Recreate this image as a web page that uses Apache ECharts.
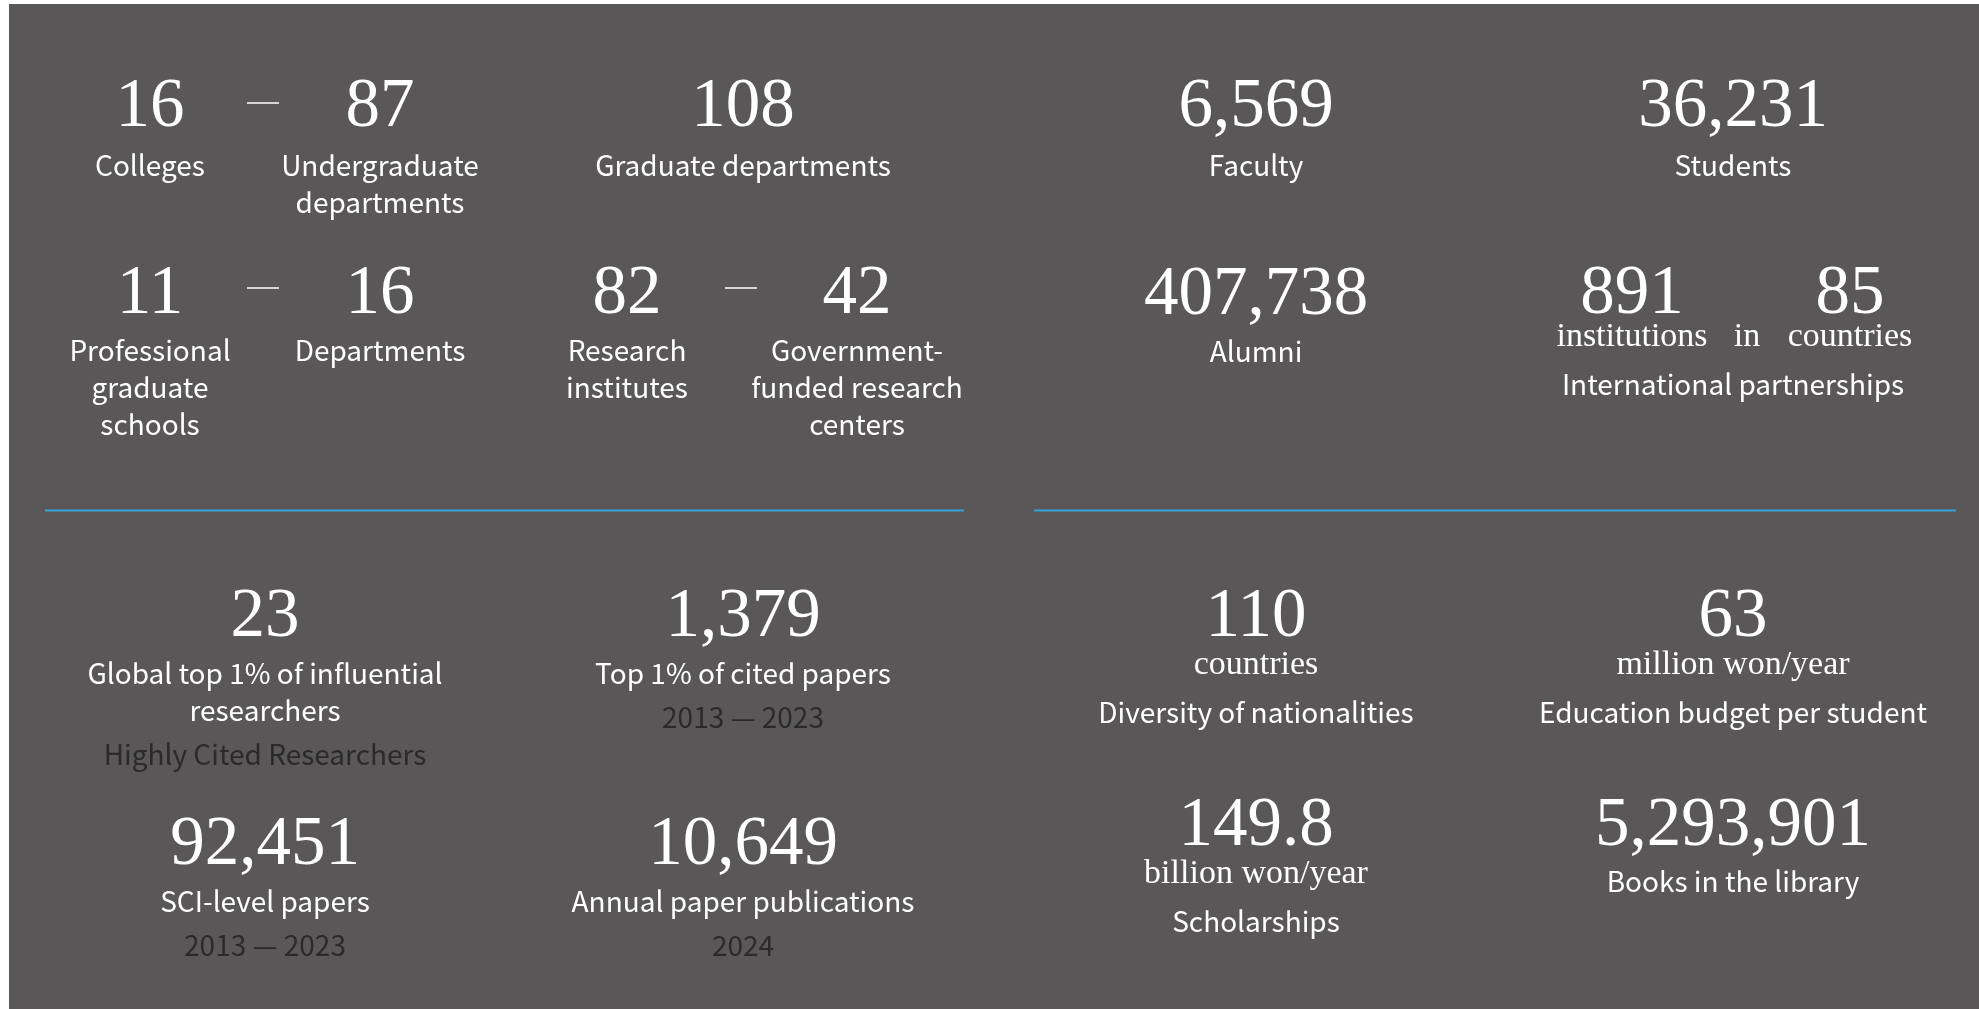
<!DOCTYPE html>
<html>
<head>
<meta charset="utf-8">
<script src="https://cdn.jsdelivr.net/npm/echarts@6/dist/echarts.min.js"></script>
<style>
html,body{margin:0;padding:0;background:#ffffff;}
#chart{width:1979px;height:1009px;}
</style>
</head>
<body>
<div id="chart"></div>
<script>
// ---------- DATA ----------
const unitCounts = [16, 87, 108, 11, 16, 82, 42];
const unitLabels = [
  'Colleges',
  'Undergraduate\ndepartments',
  'Graduate departments',
  'Professional\ngraduate\nschools',
  'Departments',
  'Research\ninstitutes',
  'Government-\nfunded research\ncenters'
];
const peopleValues = [6569, 36231, 407738];
const peopleLabels = ['Faculty', 'Students', 'Alumni'];
const partnerValues = [891, 85];
const partnerUnits = ['institutions', 'countries'];
const partnerJoin = 'in';
const partnerLabel = 'International partnerships';
const researchValues = [23, 1379, 92451, 10649];
const researchLabels = [
  'Global top 1% of influential\nresearchers',
  'Top 1% of cited papers',
  'SCI-level papers',
  'Annual paper publications'
];
const researchNotes = ['Highly Cited Researchers', '2013 — 2023', '2013 — 2023', '2024'];
const supportValues = [110, 63, 149.8, 5293901];
const supportUnits = ['countries', 'million won/year', 'billion won/year', ''];
const supportLabels = [
  'Diversity of nationalities',
  'Education budget per student',
  'Scholarships',
  'Books in the library'
];

// ---------- LAYOUT / STYLE ----------
const BG = '#595758';
const WHITE = '#ffffff';
const DARK = '#2b2a2b';
const LINE = '#35a3d5';
const NUM_FONT = '69px "Liberation Serif", serif';
const UNIT_FONT = '34px "Liberation Serif", serif';
const LABEL_FONT = '28px "Noto Sans CJK KR", "Noto Sans", sans-serif';
const LH = 37;
const NUM_DY = 4;

const fmt = v => v.toLocaleString('en-US');

const g = [];
g.push({ type: 'rect', shape: { x: 9, y: 4, width: 1970, height: 1005 }, style: { fill: BG }, silent: true });

function text(str, x, y, font, fill) {
  g.push({ type: 'text', x: x, y: y, silent: true,
    style: { text: str, font: font, fill: fill, align: 'center', verticalAlign: 'middle' } });
}
function num(v, x, y) { text(fmt(v), x, y + NUM_DY, NUM_FONT, WHITE); }
function lines(str, x, y, font, fill) {
  str.split('\n').forEach((s, i) => text(s, x, y + i * LH, font, fill));
}
function dash(cx, cy) {
  g.push({ type: 'line', silent: true, shape: { x1: cx - 16, y1: cy, x2: cx + 16, y2: cy },
    style: { stroke: WHITE, lineWidth: 1.5 } });
}

// top-left block
const unitPos = [[150, 104], [380, 104], [743, 104], [150, 291], [380, 291], [627, 291], [857, 291]];
const unitLabelY = [165, 165, 165, 350, 350, 350, 350];
unitCounts.forEach((v, i) => {
  num(v, unitPos[i][0], unitPos[i][1]);
  lines(unitLabels[i], unitPos[i][0], unitLabelY[i], LABEL_FONT, WHITE);
});
dash(263, 103); dash(263, 288); dash(741, 288);

// top-right block
const peoplePos = [[1256, 104], [1733, 104], [1256, 292]];
const peopleLabelY = [165, 165, 351];
peopleValues.forEach((v, i) => {
  num(v, peoplePos[i][0], peoplePos[i][1]);
  lines(peopleLabels[i], peoplePos[i][0], peopleLabelY[i], LABEL_FONT, WHITE);
});
const partnerX = [1632, 1850];
partnerValues.forEach((v, i) => {
  num(v, partnerX[i], 291);
  text(partnerUnits[i], partnerX[i], 337, UNIT_FONT, WHITE);
});
text(partnerJoin, 1747, 337, UNIT_FONT, WHITE);
lines(partnerLabel, 1733, 384, LABEL_FONT, WHITE);

// dividers
g.push({ type: 'line', silent: true, shape: { x1: 45, y1: 510.5, x2: 964, y2: 510.5 }, style: { stroke: LINE, lineWidth: 2 } });
g.push({ type: 'line', silent: true, shape: { x1: 1034, y1: 510.5, x2: 1956, y2: 510.5 }, style: { stroke: LINE, lineWidth: 2 } });

// bottom-left block
const researchPos = [[265, 614], [743, 614], [265, 842], [743, 842]];
researchValues.forEach((v, i) => {
  const [x, y] = researchPos[i];
  num(v, x, y);
  const lab = researchLabels[i];
  lines(lab, x, y + 59, LABEL_FONT, WHITE);
  const n = lab.split('\n').length;
  text(researchNotes[i], x, y + 59 + (n - 1) * LH + 44, LABEL_FONT, DARK);
});

// bottom-right block
const supportPos = [[1256, 614], [1733, 614], [1256, 823], [1733, 823]];
supportValues.forEach((v, i) => {
  const [x, y] = supportPos[i];
  num(v, x, y);
  if (supportUnits[i]) {
    text(supportUnits[i], x, y + 51, UNIT_FONT, WHITE);
    lines(supportLabels[i], x, y + 98, LABEL_FONT, WHITE);
  } else {
    lines(supportLabels[i], x, y + 58, LABEL_FONT, WHITE);
  }
});

const chart = echarts.init(document.getElementById('chart'), null, { renderer: 'canvas' });
chart.setOption({
  backgroundColor: '#ffffff',
  animation: false,
  graphic: { elements: g },
  series: []
});
</script>
</body>
</html>
